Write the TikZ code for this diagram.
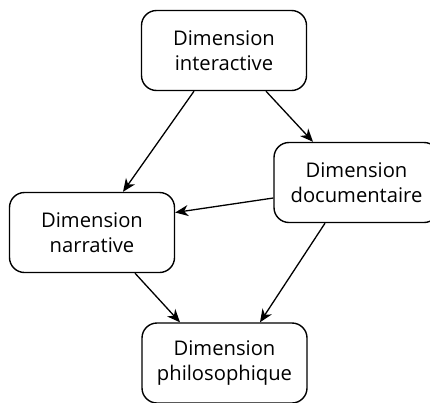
\documentclass[tikz,border=0pt]{standalone}
\usepackage{fontspec}
\setmainfont{Open Sans}
\usetikzlibrary{arrows.meta}
\tikzstyle{dim}=[rectangle,rounded corners=15pt,draw,line width=1.4pt,minimum width=165pt,minimum height=80pt,inner sep=0pt,align=center,font=\fontsize{20.2}{25}\selectfont]
\tikzstyle{arr}=[->,>={Stealth[length=13pt,width=11pt,inset=4pt]},draw,line width=1.3pt]
\begin{document}
\begin{tikzpicture}[x=1pt,y=-1pt]
      \useasboundingbox (0,0) rectangle (430,402);
      \node[dim] (inter) at (224,50.5) {Dimension\\interactive};
      \node[dim] (docu) at (356.5,182.5) {Dimension\\documentaire};
      \node[dim] (narr) at (92,232.5) {Dimension\\narrative};
      \node[dim] (philo) at (224.5,363) {Dimension\\philosophique};
      \draw[arr] ([xshift=-30pt]inter.south) -- ([xshift=31pt]narr.north);
      \draw[arr] ([xshift=42pt]inter.south) -- ([xshift=-43.5pt]docu.north);
      \draw[arr] ([yshift=-15.5pt]docu.west) -- ([yshift=20pt]narr.east);
      \draw[arr] ([xshift=-31.5pt]docu.south) -- ([xshift=35.5pt]philo.north);
      \draw[arr] ([xshift=43pt]narr.south) -- ([xshift=-44.5pt]philo.north);
  \end{tikzpicture}
\end{document}
